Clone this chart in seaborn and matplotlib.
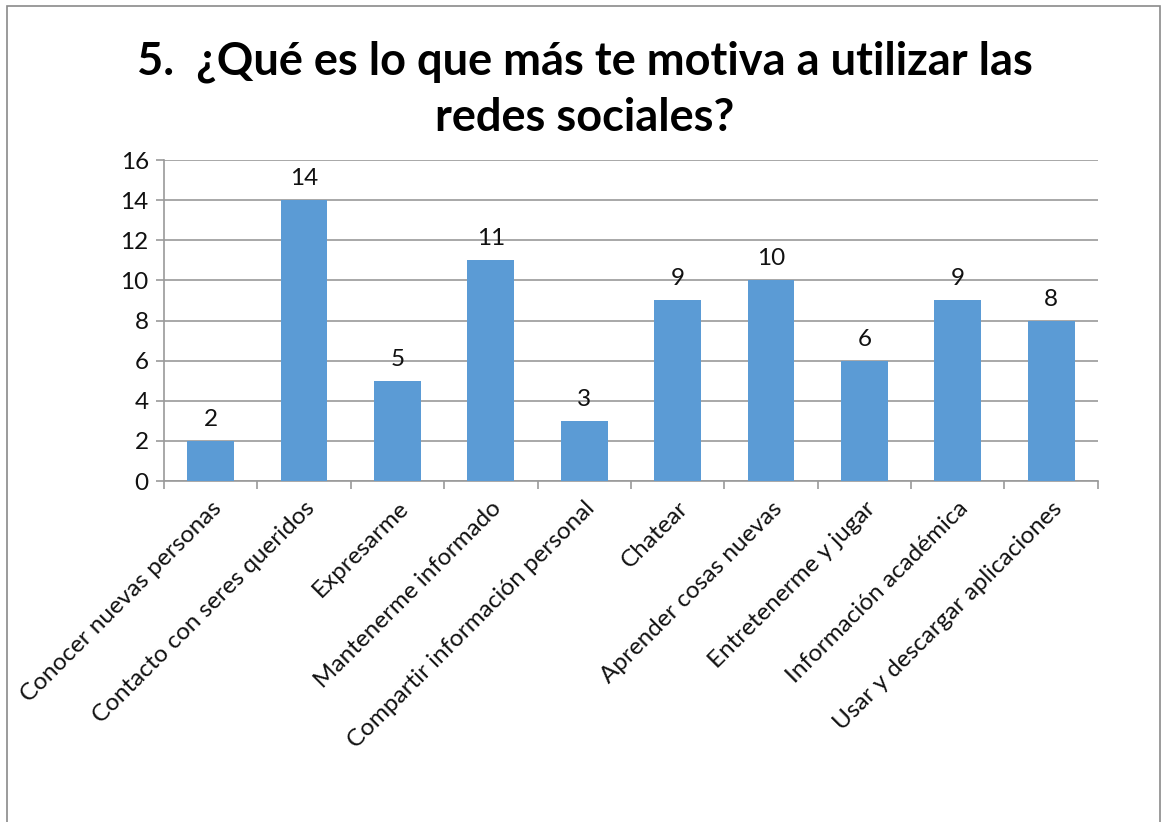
import matplotlib
matplotlib.use('Agg')
import matplotlib.pyplot as plt
import seaborn as sns
import pandas as pd

motivos = ['Conocer nuevas personas', 'Contacto con seres queridos', 'Expresarme',
           'Mantenerme informado', 'Compartir información personal', 'Chatear',
           'Aprender cosas nuevas', 'Entretenerme y jugar', 'Información académica',
           'Usar y descargar aplicaciones']
respuestas = [2, 14, 5, 11, 3, 9, 10, 6, 9, 8]
y_ticks = [0, 2, 4, 6, 8, 10, 12, 14, 16]

sns.set_style('white')
plt.rcParams['font.family'] = ['Lato', 'DejaVu Sans']

df = pd.DataFrame({'motivo': motivos, 'respuestas': respuestas})

fig = plt.figure(figsize=(11.63, 8.22), dpi=100)
ax = fig.add_axes([0.141, 0.4148, 0.803, 0.3905])

sns.barplot(data=df, x='motivo', y='respuestas', color='#5B9BD5', width=0.5,
            saturation=1, linewidth=0, ax=ax, zorder=3)

ax.set_ylim(0, 16)
ax.set_xlim(-0.5, len(motivos) - 0.5)
ax.set_yticks(y_ticks)
ax.set_yticklabels([str(v) for v in y_ticks], fontsize=17.5, color='#111111')
ax.yaxis.grid(True, color='#9A9A9A', linewidth=1.2, zorder=0)
ax.set_axisbelow(True)
ax.set_xlabel('')
ax.set_ylabel('')

for lado in ['top', 'right']:
    ax.spines[lado].set_visible(False)
for lado in ['left', 'bottom']:
    ax.spines[lado].set_color('#9A9A9A')
    ax.spines[lado].set_linewidth(1.2)

ax.tick_params(axis='y', length=6, color='#9A9A9A', width=1.2, left=True, pad=5)
# marcas del eje x entre categorias
ax.set_xticks([i - 0.5 for i in range(len(motivos) + 1)], minor=True)
ax.tick_params(axis='x', which='minor', length=6, color='#9A9A9A', width=1.2, bottom=True)
ax.tick_params(axis='x', which='major', length=0, pad=12)
ax.set_xticks(range(len(motivos)))
ax.set_xticklabels(motivos, rotation=45, ha='right', rotation_mode='anchor',
                   fontsize=17.5, color='#111111')

for i, v in enumerate(respuestas):
    ax.text(i, v + 0.55, str(v), ha='center', va='bottom', fontsize=17.5, color='#111111')

fig.text(0.503, 0.925, '5.  ¿Qué es lo que más te motiva a utilizar las',
         ha='center', va='center', fontsize=32.5, fontweight='bold', color='#000000')
fig.text(0.503, 0.856, 'redes sociales?',
         ha='center', va='center', fontsize=32.5, fontweight='bold', color='#000000')

# marco de la imagen
fig.add_artist(plt.Rectangle((0.006, -0.01), 0.991, 1.003, transform=fig.transFigure,
                             fill=False, edgecolor='#8A8A8A', linewidth=1.2))

fig.savefig('out.png', dpi=100)
